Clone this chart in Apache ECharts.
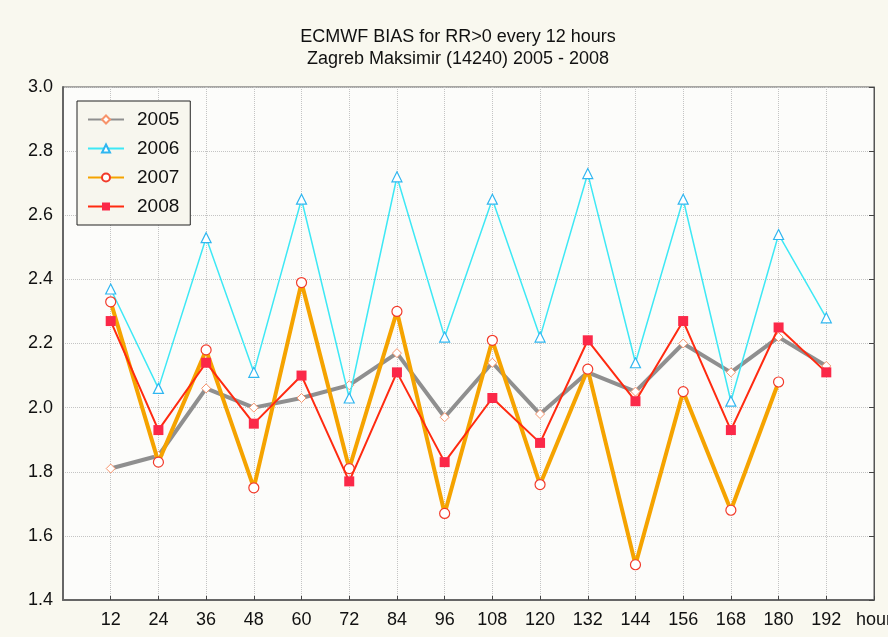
<!DOCTYPE html>
<html>
<head>
<meta charset="utf-8">
<title>ECMWF BIAS</title>
<script src="https://cdn.jsdelivr.net/npm/echarts@6/dist/echarts.min.js"></script>
<style>
  html, body { margin: 0; padding: 0; background: #f9f8ef; }
  #chart { width: 888px; height: 637px; }
</style>
</head>
<body>
<div id="chart"></div>
<script>
  // forecast hours
  const hours = [12, 24, 36, 48, 60, 72, 84, 96, 108, 120, 132, 144, 156, 168, 180, 192]

  // bias per year
  const bias2005 = [1.81, 1.85, 2.06, 2.00, 2.03, 2.07, 2.17, 1.97, 2.14, 1.98, 2.11, 2.05, 2.20, 2.11, 2.22, 2.13]
  const bias2006 = [2.37, 2.06, 2.53, 2.11, 2.65, 2.03, 2.72, 2.22, 2.65, 2.22, 2.73, 2.14, 2.65, 2.02, 2.54, 2.28]
  const bias2007 = [2.33, 1.83, 2.18, 1.75, 2.39, 1.81, 2.30, 1.67, 2.21, 1.76, 2.12, 1.51, 2.05, 1.68, 2.08, null]
  const bias2008 = [2.27, 1.93, 2.14, 1.95, 2.10, 1.77, 2.11, 1.83, 2.03, 1.89, 2.21, 2.02, 2.27, 1.93, 2.25, 2.11]

  const years = ['2005', '2006', '2007', '2008']

  function pairs(values) {
    return hours.map((h, i) => [h, values[i]]).filter(p => p[1] !== null)
  }

  const font = 'Liberation Sans, Arial'
  const chart = echarts.init(document.getElementById('chart'))

  chart.setOption({
    backgroundColor: '#f9f8ef',
    animation: false,
    title: {
      text: 'ECMWF BIAS for RR>0 every 12 hours\nZagreb Maksimir (14240) 2005 - 2008',
      left: 453,
      top: 21,
      textAlign: 'center',
      textStyle: {
        fontFamily: font,
        fontSize: 18,
        fontWeight: 'normal',
        color: '#111',
        lineHeight: 22
      }
    },
    legend: {
      data: years,
      orient: 'vertical',
      left: 77,
      top: 101,
      padding: [9, 11, 9, 10],
      itemGap: 10,
      itemWidth: 36,
      itemHeight: 10,
      backgroundColor: '#f7f6ee',
      borderColor: '#222',
      borderWidth: 1,
      borderRadius: 0,
      textStyle: {
        fontFamily: font,
        fontSize: 19,
        color: '#111',
        padding: [0, 0, 0, 8]
      }
    },
    grid: {
      left: 63,
      right: 14,
      top: 87,
      bottom: 37,
      outerBoundsMode: 'none',
      containLabel: false,
      show: true,
      backgroundColor: '#fcfcfa',
      borderColor: '#555',
      borderWidth: 1
    },
    xAxis: {
      type: 'value',
      min: 0,
      max: 204,
      interval: 12,
      axisLine: { show: true, lineStyle: { color: '#666', width: 2 } },
      axisTick: { show: true, inside: true, length: 4, lineStyle: { color: '#444' } },
      axisLabel: {
        margin: 11,
        fontFamily: font,
        fontSize: 18,
        color: '#111',
        showMinLabel: false,
        showMaxLabel: true,
        formatter: function (v) {
          if (v === 0) return ''
          if (v === 204) return 'hour'
          return v
        }
      },
      splitLine: { show: true, lineStyle: { type: 'dotted', color: '#c4c4c4' } }
    },
    yAxis: [
      {
        type: 'value',
        min: 1.4,
        max: 3.0,
        interval: 0.2,
        axisLine: { show: true, lineStyle: { color: '#666', width: 2 } },
        axisTick: { show: false },
        axisLabel: {
          margin: 10,
          fontFamily: font,
          fontSize: 18,
          color: '#111',
          formatter: v => v.toFixed(1)
        },
        splitLine: { show: true, lineStyle: { type: 'dotted', color: '#c4c4c4' } }
      },
      {
        type: 'value',
        position: 'right',
        min: 1.4,
        max: 3.0,
        interval: 0.2,
        axisLine: { show: true, lineStyle: { color: '#555', width: 1 } },
        axisTick: { show: true, inside: true, length: 5, lineStyle: { color: '#444' } },
        axisLabel: { show: false },
        splitLine: { show: false }
      }
    ],
    series: [
      {
        name: '2005',
        type: 'line',
        data: pairs(bias2005),
        symbol: 'diamond',
        symbolSize: 9,
        z: 2,
        lineStyle: { color: '#8f8f8f', width: 4 },
        itemStyle: { color: '#ffffff', borderColor: '#f7936a', borderWidth: 1 }
      },
      {
        name: '2006',
        type: 'line',
        data: pairs(bias2006),
        symbol: 'triangle',
        symbolSize: 10,
        z: 3,
        lineStyle: { color: '#3ee8f5', width: 1.5 },
        itemStyle: { color: '#ffffff', borderColor: '#2fb6f0', borderWidth: 1.2 }
      },
      {
        name: '2007',
        type: 'line',
        data: pairs(bias2007),
        symbol: 'circle',
        symbolSize: 10,
        z: 4,
        lineStyle: { color: '#f5a300', width: 4 },
        itemStyle: { color: '#ffffff', borderColor: '#f23a2a', borderWidth: 1.2 }
      },
      {
        name: '2008',
        type: 'line',
        data: pairs(bias2008),
        symbol: 'rect',
        symbolSize: 10,
        z: 5,
        lineStyle: { color: '#ff2a10', width: 2 },
        itemStyle: { color: '#fb2848', borderColor: '#fb2848', borderWidth: 0 }
      }
    ]
  })
</script>
</body>
</html>
